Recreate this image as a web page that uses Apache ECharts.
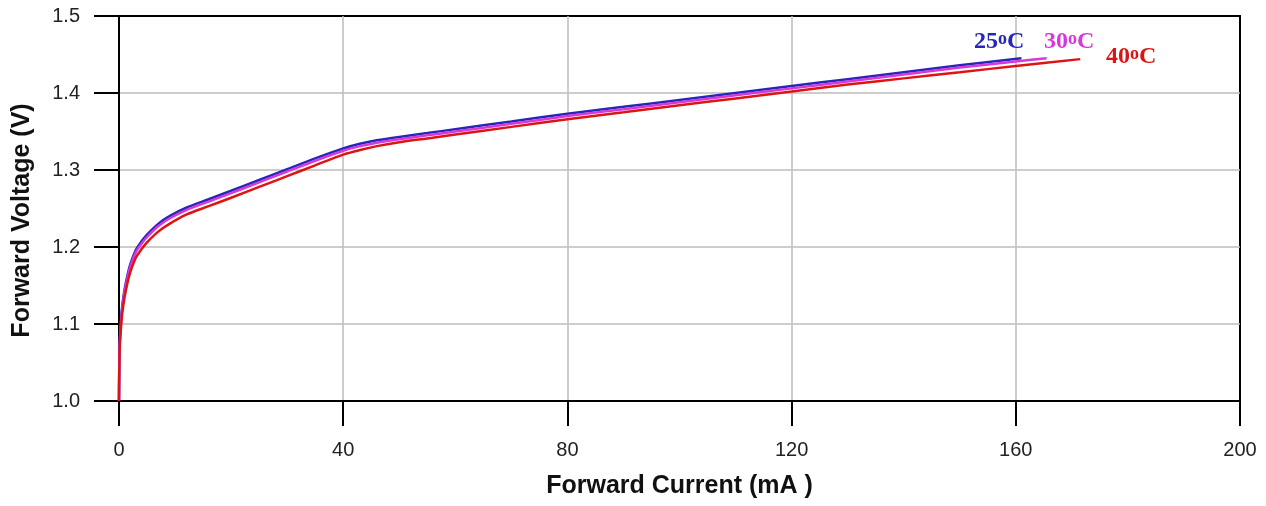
<!DOCTYPE html>
<html>
<head>
<meta charset="utf-8">
<script src="https://cdn.jsdelivr.net/npm/echarts@6/dist/echarts.min.js"></script>
<style>html,body{margin:0;padding:0;background:#fff}#c{width:1266px;height:506px}</style>
</head>
<body>
<div id="c"></div>
<script>
// Forward current (mA) and forward voltage (V) per temperature
var i25 = [0, 0.1, 0.3, 0.6, 1, 1.5, 2, 3, 4, 5, 7, 9, 12, 16, 20, 25, 30, 35, 40, 43, 46, 50, 55, 60, 70, 80, 90, 100, 110, 120, 130, 140, 150, 161];
var v25 = [1.00, 1.07, 1.10, 1.125, 1.145, 1.163, 1.177, 1.196, 1.207, 1.216, 1.230, 1.240, 1.251, 1.262, 1.273, 1.287, 1.301, 1.315, 1.328, 1.334, 1.3385, 1.343, 1.348, 1.353, 1.363, 1.373, 1.382, 1.391, 1.400, 1.409, 1.418, 1.427, 1.436, 1.445];
var i30 = [0, 0.1, 0.3, 0.6, 1, 1.5, 2, 3, 4, 5, 7, 9, 12, 16, 20, 25, 30, 35, 40, 43, 46, 50, 55, 60, 70, 80, 90, 100, 110, 120, 130, 140, 150, 160, 165.5];
var v30 = [1.00, 1.068, 1.097, 1.122, 1.142, 1.160, 1.174, 1.193, 1.204, 1.213, 1.227, 1.237, 1.248, 1.259, 1.270, 1.284, 1.298, 1.312, 1.325, 1.331, 1.3355, 1.340, 1.345, 1.350, 1.360, 1.370, 1.379, 1.388, 1.397, 1.406, 1.415, 1.424, 1.433, 1.441, 1.445];
var i40 = [0, 0.1, 0.3, 0.6, 1, 1.5, 2, 3, 4, 5, 7, 9, 12, 16, 20, 25, 30, 35, 40, 43, 46, 50, 55, 60, 70, 80, 90, 100, 110, 120, 130, 140, 150, 160, 171.5];
var v40 = [1.00, 1.062, 1.090, 1.115, 1.135, 1.153, 1.167, 1.186, 1.197, 1.206, 1.220, 1.230, 1.242, 1.253, 1.264, 1.278, 1.292, 1.306, 1.320, 1.326, 1.331, 1.336, 1.341, 1.346, 1.356, 1.366, 1.375, 1.384, 1.393, 1.402, 1.411, 1.419, 1.427, 1.435, 1.444];
var seriesNames = ['25', '30', '40'];
var seriesColors = ['#2626b8', '#d838d8', '#dc1414'];

function pairs(xs, ys) { return xs.map(function (x, k) { return [x, ys[k]]; }); }
var datasets = [pairs(i25, v25), pairs(i30, v30), pairs(i40, v40)];

function tempLabel(t, color, left, top) {
  return {
    type: 'text', left: left, top: top, z: 10,
    style: {
      text: '{a|' + t + '}{b|o}{a|C}',
      rich: {
        a: { fontFamily: 'Liberation Serif', fontWeight: 'bold', fontSize: 24, lineHeight: 24, fill: color, verticalAlign: 'bottom' },
        b: { fontFamily: 'Liberation Serif', fontWeight: 'bold', fontSize: 18, lineHeight: 12, fill: color, verticalAlign: 'top' }
      }
    }
  };
}

var chart = echarts.init(document.getElementById('c'));
var axisText = { color: '#222', fontFamily: 'Liberation Sans, Arial', fontSize: 20 };
chart.setOption({
  animation: false,
  backgroundColor: '#fff',
  grid: { left: 119, right: 26, top: 16, bottom: 105, show: true, borderColor: '#000', borderWidth: 2, outerBoundsMode: 'none', containLabel: false },
  xAxis: {
    type: 'value', min: 0, max: 200, interval: 40,
    name: 'Forward Current (mA )', nameLocation: 'middle', nameGap: 73,
    nameTextStyle: { fontFamily: 'Liberation Sans, Arial', fontWeight: 'bold', fontSize: 25, color: '#111', verticalAlign: 'top' },
    axisLine: { show: true, lineStyle: { color: '#000', width: 2 } },
    axisTick: { show: true, length: 25, lineStyle: { color: '#000', width: 2 } },
    axisLabel: Object.assign({ margin: 39 }, axisText),
    splitLine: { show: true, showMinLine: false, showMaxLine: false, lineStyle: { color: '#bcbcbc', width: 1.5 } }
  },
  yAxis: {
    type: 'value', min: 1.0, max: 1.5, interval: 0.1,
    name: 'Forward Voltage (V)', nameLocation: 'middle', nameGap: 84, nameRotate: 90,
    nameTextStyle: { fontFamily: 'Liberation Sans, Arial', fontWeight: 'bold', fontSize: 25, color: '#111', padding: [0, 24, 0, 0] },
    axisLine: { show: true, lineStyle: { color: '#000', width: 2 } },
    axisTick: { show: true, length: 25, lineStyle: { color: '#000', width: 2 } },
    axisLabel: Object.assign({ margin: 39, formatter: function (v) { return v.toFixed(1); } }, axisText),
    splitLine: { show: true, showMinLine: false, showMaxLine: false, lineStyle: { color: '#bcbcbc', width: 1.5 } }
  },
  series: seriesNames.map(function (n, k) {
    return {
      name: n, type: 'line', data: datasets[k], smooth: 0.3, showSymbol: false,
      lineStyle: { color: seriesColors[k], width: 2.5 }, z: 3 + k
    };
  }),
  graphic: [
    tempLabel(seriesNames[0], seriesColors[0], 974, 30),
    tempLabel(seriesNames[1], seriesColors[1], 1044, 30),
    tempLabel(seriesNames[2], seriesColors[2], 1106, 45)
  ]
});
</script>
</body>
</html>
